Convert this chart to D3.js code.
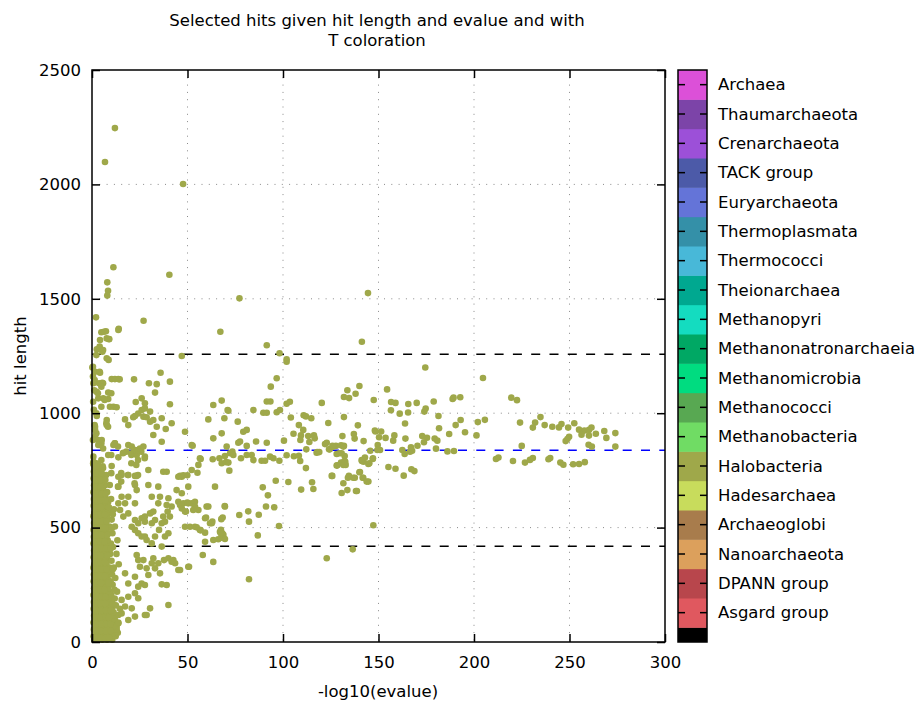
<!DOCTYPE html>
<html lang="en">
  <head>
    <meta charset="UTF-8" />
    <title>Selected hits</title>
    <style>
      * {
        margin: 0;
        padding: 0;
      }
      body {
        background-color: #fff;
      }
      text {
        font-family: "DejaVu Sans", sans-serif;
        font-size: 16.5px;
        fill: #000;
      }
    </style>
  </head>
  <body>
    <script src="https://cdn.jsdelivr.net/npm/d3@7"></script>
    <script>
      const titleLines = ["Selected hits given hit length and evalue and with", "T coloration"];
      const xLabel = "-log10(evalue)";
      const yLabel = "hit length";
      const xTicks = [0, 50, 100, 150, 200, 250, 300];
      const yTicks = [0, 500, 1000, 1500, 2000, 2500];

      // taxa from bottom of the colour bar to the top
      const taxa = ["Asgard group", "DPANN group", "Nanoarchaeota", "Archaeoglobi", "Hadesarchaea", "Halobacteria",
        "Methanobacteria", "Methanococci", "Methanomicrobia", "Methanonatronarchaeia", "Methanopyri", "Theionarchaea",
        "Thermococci", "Thermoplasmata", "Euryarchaeota", "TACK group", "Crenarchaeota", "Thaumarchaeota", "Archaea"];
      const taxaColors = ["#e0585f", "#b8464c", "#dca05c", "#a87c4c", "#c8dc5c", "#9fa84a",
        "#70dc64", "#58a852", "#00dc80", "#00a864", "#14dcc0", "#00a890",
        "#48b8d8", "#3490a8", "#6474d8", "#4c5aa8", "#9c50d8", "#7c44a8", "#dc50d8"];
      const hitTaxon = "Halobacteria";

      // mean hit length and +/- 50 %
      const meanLength = 838;
      const lowLength = 418;
      const highLength = 1258;

      // scattered hits [ -log10(evalue), hit length ]
      const hits = [
        [12,2246],[6.8,2098],[47.7,2002],[11.2,1638],[8,1572],[8.4,1535],[8,1514],[40.5,1605],[77.2,1502],[144.5,1525],
        [2.1,1419],[27,1404],[4.9,1354],[7.3,1358],[14,1369],[67.2,1356],[9,1324],[91.5,1297],[141.3,1312],[98.2,1262],
        [47,1250],[101.9,1236],[174.5,1200],[204.7,1154],[219.5,1068],[222.5,1057],
        [6.3,1356],[4.2,1320],[7.7,1327],[2.5,1279],[5.4,1269],[7.7,1240],[8.9,1323],[13.8,1364],[4,1291],[5.8,1276],
        [2.3,1254],[8.7,1233],[0.2,1200],[1.6,1181],[4.2,1177],[3.7,1131],[5.4,1133],[0.7,1131],[2.4,1094],[3.3,1065],
        [5.9,1065],[8.5,1062],[8.5,1090],[10.3,1149],[12,1149],[13.8,1149],[14.5,1148],[9.4,1028],[11.2,1028],[12.9,1026],
        [0.5,1203],[4,1181],[1.4,1145],[5.8,1131],[4.9,1116],[3.1,1087],[10.1,1087],[6.6,1058],[4.9,1028],[2.3,1000],
        [1,1015],[0.6,1050],[1.2,1100],[0.5,1160],
        [22,1148],[29.8,1131],[33.9,1127],[40.8,1138],[35.9,1177],[33,1090],[22.9,1049],[26,1065],[27.7,1043],[40.8,1039],
        [63.5,1036],[67.9,1055],[71.4,1011],[91.5,1051],[93.6,1116],[96.7,1153],[101.9,1225],
        [2.5,988],[7.7,970],[7.7,948],[17.3,973],[19,948],[22.5,988],[21.6,982],[24.2,999],[26,1014],[27.7,1021],
        [30.4,1007],[26.9,985],[28.6,982],[30.4,963],[32.1,970],[36.5,978],[33.9,941],[32.1,905],[38.6,931],[41.7,956],
        [36.5,875],[48.7,919],[52.2,861],[56.5,803],[60.9,973],[63.5,890],[67.9,912],[69.3,978],[71,1014],[76.3,963],
        [79.2,919],[81,927],[84.5,1014],[89.7,1002],[91.5,1002],[93.4,1051],[96.7,1004],[98.4,1014],
        [7.5,956],[8.4,941],[1.4,948],[2.3,912],[3.1,883],[4.9,868],[5.8,846],[11.9,868],[13.6,854],[10.1,817],
        [16.2,825],[18,832],[20.6,817],[22.3,839],[25.8,832],[24.1,795],[20.6,781],[23.2,774],[27.6,803],[4.9,795],
        [2.3,781],[1.4,760],[5.8,760],[10.1,738],[3.1,738],[15.3,738],[18.8,730],[24.1,730],[22.3,694],[15.3,701],
        [9.3,686],[13.6,679],
        [1.6,941],[1.6,927],[1.6,897],[0.5,883],[5.1,883],[3.3,861],[8.5,817],[11.2,861],[12,868],[16.4,827],
        [19,861],[20.8,854],[20.8,825],[23.4,817],[22.5,839],[24.2,839],[25.1,846],[26.9,854],[27.7,810],[29.5,752],
        [37.3,744],[39.1,744],[10.3,769],[13.8,807],[15.5,730],[19,730],[13.8,722],[22.5,726],[23.4,726],[0.6,780],
        [0.8,788],[0.7,810],
        [45.2,722],[47,722],[50.4,679],[44.3,664],[47,650],[45.2,613],[50.4,606],[52.2,606],[53.9,613],[53.9,592],
        [55.7,577],[48.7,570],[41.7,592],[40,628],[35.6,635],[34.7,606],[32.1,570],[30.4,562],[27.7,548],[26,541],
        [22.5,533],[24.2,519],[27.7,526],[31.3,519],[33,533],[36.5,519],[38.2,526],[39.1,599],[39.6,570],[40.8,548],
        [37.3,548],[40,475],[48.7,504],[51.3,504],[53.9,504],[56.5,490],[59.2,541],[61.8,519],[63,526],[67.5,490],
        [68.2,475],[69.6,592],[60,592],[64.4,679],[31.3,635],[34.7,679],[29.5,686],[22.5,686],[23.4,664],[19,635],
        [17.3,606],[22.5,606],[13.8,679],[15.5,635],[13.8,606],
        [52.7,858],[46.1,599],[47.8,606],[49.9,609],[47,584],[49.2,570],[53,577],[46.1,726],[47.8,729],[49.9,729],
        [52.2,752],[55.2,740],[55.7,774],[56.9,800],[63.2,799],[66.7,803],[67.9,781],[70.2,786],[71.4,784],[71.9,749],
        [69.6,813],[72.3,825],[73.5,832],[74,817],[70.5,854],[76.6,871],[77.5,876],[81,857],[85.9,876],[91.5,871],
        [78,803],[81,817],[83.6,817],[84.5,795],[88.8,792],[90.6,792],[93.2,810],[95,803],[98.1,792],
        [96.2,705],[102.8,699],[89.4,676],[92.1,641],[91.1,592],[95.4,589],[60.9,592],[69.5,594],[59.7,544],[62.7,519],
        [68.4,544],[67.7,537],[77.1,555],[81.8,571],[82.2,526],[87.3,556],[97.9,507],[86.8,466],[54.8,501],[56.9,488],
        [59.2,478],[59.2,438],[63.5,446],[66.1,449],[67.9,456],[67,482],[68.8,468],[69.6,450],[67.4,475],[58,380],
        [50.8,329],[63.5,350],[82.2,274],[46.1,315],
        [14.7,577],[16.4,548],[19,562],[20.8,504],[22.5,490],[24.2,475],[26,461],[27.7,461],[28.6,446],[31.3,431],
        [33,461],[35.1,490],[38.2,461],[36.5,417],[40,366],[41.7,351],[43.5,344],[37.7,358],[34.7,344],[31.3,344],
        [33,322],[35.6,300],[26.9,358],[24.2,358],[25.1,329],[28.6,322],[29.5,293],[26,256],[27.7,249],[22.5,285],
        [24.2,242],[17.3,300],[19,256],[22.5,213],[24.2,191],[19,198],[15.5,184],[17.3,155],[20.8,147],[13.8,118],
        [12,96],[10.3,82],[12.9,67],[8.5,52],[6.8,31],[5.1,31],[10.3,38],[13.8,82],[19,96],[15.5,125],
        [22.5,111],[27.7,118],[40,162],[30.4,147],[28.6,118],[45.2,315],[50.4,329],[36.5,252],[39.1,249],[32.1,366],
        [23.4,380],[42.6,358],
        [122.9,366],[136.5,405],[147.3,510],[120.3,1045],[101.9,1041],[103.6,1050],[147.5,1058],[154.5,1104],[140,1119],[133.7,1100],
        [138,1085],[131.9,1071],[134.6,1066],[156.6,1049],[158.9,1045],[165.6,1040],[170,1045],[178.9,1051],[188.8,1062],[189.3,1068],
        [192.8,1070],[156.5,1013],[161.1,998],[165.5,1003],[174,1007],[174.7,1020],[181.4,988],[181.7,934],[104.1,981],[110.8,991],
        [112,986],[114.8,978],[131.9,983],[163.9,955],[151.4,920],[148.4,920],[123.7,957],[139.2,947],
        [202,961],[205.7,971],[224.1,959],[232,959],[234.8,983],[230.8,937],[237,948],[241,941],[244.5,938],[245.8,953],
        [249.3,937],[252.5,956],[255,928],[257.8,924],[260.2,927],[261.5,937],[263.8,910],[268.2,922],[274,913],[269.3,892],
        [260.2,902],[256.3,906],[249.8,897],[248,878],[248.9,887],[260,862],[261.7,854],[274,854],[225,857],[211.5,800],
        [212.8,806],[220.4,791],[226.7,784],[229.3,796],[230.8,804],[239,799],[239.9,804],[245.2,784],[246.8,775],[251.9,777],
        [255,778],[258,786],[201.3,903],[187,909],[190.4,948],[193,970],[195.3,917],[186.1,833],[189.5,835],
        [172.9,900],[175.4,893],[173.8,873],[179.4,889],[180.8,880],[180.1,845],[170.4,858],[167.6,836],[166.5,832],[167,851],
        [164.1,889],[163.7,822],[162.5,839],[158.3,903],[157.7,880],[153.7,892],[150.8,839],[149.6,861],[150.3,895],[148.1,924],
        [155.2,765],[158.9,757],[163.2,727],[167.2,755],[168.8,747],
        [100.5,880],[105.5,910],[108.3,948],[110.6,927],[109.4,903],[109.1,883],[113.8,874],[113.2,900],[116.2,903],[116.6,890],
        [117.9,830],[119,830],[122,865],[122.9,871],[124.5,842],[125.9,857],[127.7,857],[130.4,860],[131.9,857],[131.1,900],
        [137.1,909],[137.5,889],[142.2,878],
        [101.9,816],[105.7,812],[108.3,814],[109,791],[112,760],[115.2,698],[109.5,666],[115.9,669],[125.8,726],[128.4,772],
        [131.1,781],[132.2,791],[132.8,774],[129.5,825],[132.3,813],[134.5,726],[138.7,660],[137.6,718],[140.3,743],[142,718],
        [144.7,701],[141.3,791],[142.9,806],[145.7,836],[147.1,803],[145.2,781],[142.2,788],
        [112.2,842],[117.6,827],[124.1,842],[126.3,854],[131.6,854],[128.1,822],[130.7,825],[130.4,784],[131.6,774],[128.1,771],
        [132.6,788],[134,718],[136.8,718],[141.2,795],[144.7,778],[147,800],[149.4,839],[140,742],[141.7,718],[143.8,701],
        [131.6,694],[130.7,651],[133.7,664],[138.2,660],[125.5,726]
      ];

      // the packed column of weak hits near evalue 1: [hit length, [ -log10(evalue) ... ]]
      const denseRows = [
        [10,[1.2,3.0,5.4,7.9,10.6]],[25,[0.9,2.8,4.6,6.7,9.3,12.4]],[40,[1.5,3.9,6.1,8.4,11.2,13.5]],
        [55,[1.0,2.9,5.2,7.3,9.8,12.9]],[70,[1.8,4.1,6.4,8.9,11.6]],[85,[0.8,3.2,5.5,7.7,10.2,13.8]],
        [100,[1.4,3.6,6.0,8.3,10.9]],[115,[1.1,2.9,5.0,7.2,9.6,12.1]],[130,[1.7,4.0,6.3,8.6,11.3]],
        [145,[0.9,3.1,5.6,7.9,10.4,14.6]],[160,[1.3,3.7,5.9,8.2,12.5]],[175,[1.0,2.7,4.9,7.0,9.4]],
        [190,[1.6,4.2,6.5,8.8,11.9]],[205,[0.8,3.0,5.3,7.6,10.1]],[220,[1.4,3.5,5.8,9.0,13.1]],
        [235,[1.1,2.8,4.7,6.9,8.5]],[250,[1.7,4.0,6.2,10.8]],[265,[0.9,3.2,5.5,7.8,9.7]],
        [280,[1.3,3.6,5.9,8.1,12.2]],[295,[1.0,2.9,5.0,7.4,10.5]],[310,[1.6,4.1,6.4,8.7]],
        [325,[0.8,3.3,5.7,9.2,11.4]],[340,[1.2,3.4,5.6,7.5,14.0]],[355,[1.5,3.9,6.1,8.3,10.2]],
        [370,[0.9,3.0,5.2,7.1]],[385,[1.4,3.7,6.0,9.5,12.8]],[400,[1.1,2.8,4.8,7.0,8.9]],
        [415,[1.7,4.2,6.5,11.0]],[430,[0.8,3.1,5.4,7.7,9.9]],[445,[1.3,3.5,5.8,8.2,13.3]],
        [460,[1.0,2.9,4.9,7.3]],[475,[1.6,4.0,6.3,8.6,10.7]],[490,[0.9,3.2,5.5,7.6]],
        [505,[1.4,3.6,5.9,9.1,12.0]],[520,[1.1,3.0,5.1,7.2]],[535,[1.7,4.1,6.4,8.5,10.3]],
        [550,[0.8,3.3,5.6,7.8]],[565,[1.2,3.5,5.7,9.4]],[580,[1.5,3.8,6.1,8.0,11.5]],
        [595,[0.9,2.9,5.0,7.1]],[610,[1.3,3.6,5.9,8.4]],[625,[1.0,3.1,5.3,7.5,10.0]],
        [640,[1.6,4.0,6.2]],[655,[0.8,3.2,5.4,7.9]],[670,[1.4,3.5,5.7]],
        [685,[1.1,2.9,4.8,6.8]],[700,[1.7,4.1,6.3]],[715,[0.9,3.0,5.2]],
        [730,[1.3,3.4,5.5,7.4]],[745,[1.0,3.7]],[760,[1.5,4.3]],[775,[0.9,3.1]],
        [18,[2.1,4.4,6.9,9.0]],[48,[2.4,4.9,7.1,10.0]],[78,[2.2,5.0,7.4,9.6]],[108,[2.5,4.6,7.0,8.8]],
        [138,[2.0,4.8,7.3,9.9]],[168,[2.3,4.5,6.8,10.7]],[198,[2.6,5.0,7.2]],[228,[2.1,4.3,6.6,11.8]],
        [258,[2.4,4.7,8.6]],[288,[2.2,4.6,6.9]],[318,[2.5,4.9,7.6,10.9]],[348,[2.0,4.4,6.8]],
        [378,[2.3,4.5,8.1]],[408,[2.6,5.0,7.4,9.7]],[438,[2.1,4.3,6.5]],[468,[2.4,5.1,8.0]],
        [498,[2.2,4.6,6.9,10.4]],[528,[2.5,4.8,7.6]],[558,[2.0,4.4,6.7,10.9]],[588,[2.3,4.7,8.9]],
        [618,[2.6,4.5,6.8]],[648,[2.1,4.9,7.1]],[678,[2.4,4.6]],[708,[2.2,4.8,7.0]],[738,[2.5,5.1]],[768,[2.3,5.6]]
      ];

      const plot = { left: 92, right: 665, top: 70, bottom: 642 };
      const bar = { left: 678, right: 707 };

      const svg = d3.select("body").append("svg").attr("width", 922).attr("height", 705);

      const x = d3.scaleLinear().domain([0, 300]).range([plot.left, plot.right]);
      const y = d3.scaleLinear().domain([0, 2500]).range([plot.bottom, plot.top]);
      const color = d3.scaleOrdinal().domain(taxa).range(taxaColors);

      // grid
      svg
        .append("g")
        .selectAll("line")
        .data(xTicks.slice(1, -1))
        .enter()
        .append("line")
        .attr("x1", (d) => x(d))
        .attr("x2", (d) => x(d))
        .attr("y1", plot.top)
        .attr("y2", plot.bottom)
        .attr("stroke", "#8a8a8a")
        .attr("stroke-dasharray", "1,6.3");
      svg
        .append("g")
        .selectAll("line")
        .data(yTicks.slice(1, -1))
        .enter()
        .append("line")
        .attr("x1", plot.left)
        .attr("x2", plot.right)
        .attr("y1", (d) => y(d))
        .attr("y2", (d) => y(d))
        .attr("stroke", "#8a8a8a")
        .attr("stroke-dasharray", "1,6.3");

      // mean and +/- lines
      svg
        .append("g")
        .selectAll("line")
        .data([
          { v: highLength, c: "#000" },
          { v: meanLength, c: "#0000ff" },
          { v: lowLength, c: "#000" },
        ])
        .enter()
        .append("line")
        .attr("x1", plot.left)
        .attr("x2", plot.right)
        .attr("y1", (d) => y(d.v))
        .attr("y2", (d) => y(d.v))
        .attr("stroke", (d) => d.c)
        .attr("stroke-width", 1.5)
        .attr("stroke-dasharray", "9,9.3");

      // points
      const allHits = hits.concat(denseRows.flatMap(([len, xs]) => xs.map((e) => [e, len])));
      svg
        .append("g")
        .selectAll("circle")
        .data(allHits)
        .enter()
        .append("circle")
        .attr("cx", (d) => x(d[0]))
        .attr("cy", (d) => y(d[1]))
        .attr("r", 3.3)
        .attr("fill", color(hitTaxon));

      // axes, ticks pointing inward on all four sides
      const styleAxis = (g) => {
        g.select(".domain").remove();
        g.selectAll(".tick line").attr("stroke-width", 1.5);
        g.selectAll("text").attr("font-family", "DejaVu Sans").attr("font-size", 16.5);
      };
      svg
        .append("g")
        .attr("transform", `translate(0,${plot.bottom})`)
        .call(d3.axisBottom(x).tickValues(xTicks).tickFormat(d3.format("d")).tickSize(-8).tickPadding(14))
        .call(styleAxis);
      svg
        .append("g")
        .attr("transform", `translate(0,${plot.top})`)
        .call(d3.axisTop(x).tickValues(xTicks).tickSize(-8).tickFormat(() => ""))
        .call(styleAxis);
      svg
        .append("g")
        .attr("transform", `translate(${plot.left},0)`)
        .call(d3.axisLeft(y).tickValues(yTicks).tickFormat(d3.format("d")).tickSize(-8).tickPadding(11))
        .call(styleAxis);
      svg
        .append("g")
        .attr("transform", `translate(${plot.right},0)`)
        .call(d3.axisRight(y).tickValues(yTicks).tickSize(-8).tickFormat(() => ""))
        .call(styleAxis);

      svg
        .append("rect")
        .attr("x", plot.left)
        .attr("y", plot.top)
        .attr("width", plot.right - plot.left)
        .attr("height", plot.bottom - plot.top)
        .attr("fill", "none")
        .attr("stroke", "#000")
        .attr("stroke-width", 1.5);

      // titles
      svg
        .append("g")
        .selectAll("text")
        .data(titleLines)
        .enter()
        .append("text")
        .attr("x", 377)
        .attr("y", (d, i) => 25.5 + i * 20.5)
        .attr("text-anchor", "middle")
        .text((d) => d);
      svg.append("text").attr("x", 378).attr("y", 697).attr("text-anchor", "middle").text(xLabel);
      svg
        .append("text")
        .attr("transform", `translate(26,356) rotate(-90)`)
        .attr("text-anchor", "middle")
        .text(yLabel);

      // colour bar: black half step at the bottom, then one band per taxon
      const cb = d3.scaleLinear().domain([0, taxa.length + 0.5]).range([plot.bottom, plot.top]);
      svg
        .append("rect")
        .attr("x", bar.left)
        .attr("y", cb(0.5))
        .attr("width", bar.right - bar.left)
        .attr("height", cb(0) - cb(0.5))
        .attr("fill", "#000");
      svg
        .append("g")
        .selectAll("rect")
        .data(taxa)
        .enter()
        .append("rect")
        .attr("x", bar.left)
        .attr("y", (d, i) => cb(i + 1.5))
        .attr("width", bar.right - bar.left)
        .attr("height", (d, i) => cb(i + 0.5) - cb(i + 1.5) + 0.5)
        .attr("fill", (d) => color(d));
      const cbTick = svg.append("g").selectAll("g").data(taxa).enter().append("g");
      cbTick
        .append("line")
        .attr("x1", bar.left)
        .attr("x2", bar.left + 7)
        .attr("y1", (d, i) => cb(i + 1))
        .attr("y2", (d, i) => cb(i + 1))
        .attr("stroke", "#000")
        .attr("stroke-width", 1.5);
      cbTick
        .append("line")
        .attr("x1", bar.right - 7)
        .attr("x2", bar.right)
        .attr("y1", (d, i) => cb(i + 1))
        .attr("y2", (d, i) => cb(i + 1))
        .attr("stroke", "#000")
        .attr("stroke-width", 1.5);
      cbTick
        .append("text")
        .attr("x", bar.right + 11)
        .attr("y", (d, i) => cb(i + 1))
        .attr("dy", "0.35em")
        .text((d) => d);
      svg
        .append("rect")
        .attr("x", bar.left)
        .attr("y", plot.top)
        .attr("width", bar.right - bar.left)
        .attr("height", plot.bottom - plot.top)
        .attr("fill", "none")
        .attr("stroke", "#000")
        .attr("stroke-width", 1.5);
    </script>
  </body>
</html>
